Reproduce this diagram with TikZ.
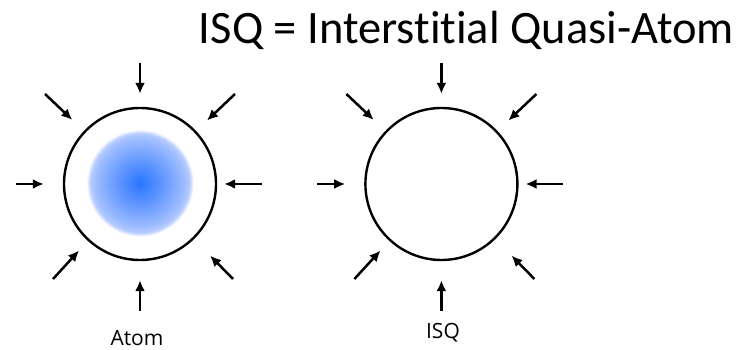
\documentclass[tikz,border=0pt]{standalone}
\usepackage{fontspec}
\setmainfont{Carlito}[Ligatures={NoCommon,NoContextual}, Contextuals=NoAlternate]
\newfontfamily\labelfont{Open Sans}
\usetikzlibrary{arrows.meta,positioning,calc}

% soft blue core of the atom
\pgfdeclareradialshading{atomglow}{\pgfpoint{0bp}{0bp}}{%
  rgb(0bp)=(0.16,0.46,1);
  rgb(11bp)=(0.40,0.60,1);
  rgb(20.5bp)=(0.62,0.74,1);
  rgb(23bp)=(0.72,0.80,1);
  rgb(24.8bp)=(1,1,1);
  rgb(50bp)=(1,1,1)}

\begin{document}
\begin{tikzpicture}[
    x=1pt, y=1pt,
    atomring/.style={circle, draw=black, line width=2.4pt, minimum size=152pt, inner sep=0pt},
    glowdisc/.style={circle, shading=atomglow, minimum size=108pt, inner sep=0pt},
    inarrow/.style={-{Latex[length=11pt,width=10pt]}, line width=2.5pt},
    titletext/.style={font=\fontsize{46.5}{50}\selectfont, inner sep=0pt},
    labeltext/.style={font=\labelfont\fontsize{21}{24}\selectfont, inner sep=0pt}
]
\useasboundingbox (0,0) rectangle (749,350);

% Title
\node[titletext, anchor=base] (title) at (466.5,306) {ISQ = Interstitial Quasi-Atom};

% Atom (left) and ISQ (right)
\node[glowdisc] (glow) at (140,167) {};
\node[atomring] (atom) at (140,166) {};
\node[atomring, right=147pt of atom] (isq) {};

% Labels
\node[labeltext, anchor=base] (atom-label) at (137,4.5) {Atom};
\node[labeltext, anchor=base] (isq-label) at (443,11) {ISQ};

% Arrows pressing in from all sides
\foreach \c in {atom,isq} {
    \coordinate (\c-n)  at ($(\c)+(0,121)$);
    \coordinate (\c-nw) at ($(\c)+(-95,90)$);
    \coordinate (\c-ne) at ($(\c)+(95,90)$);
    \coordinate (\c-w)  at ($(\c)+(-124,0)$);
    \coordinate (\c-e)  at ($(\c)+(122,0)$);
    \coordinate (\c-sw) at ($(\c)+(-87,-95)$);
    \coordinate (\c-se) at ($(\c)+(93,-95)$);
    \coordinate (\c-s)  at ($(\c)+(0,-127)$);

    \draw[inarrow, shorten >=13pt] (\c-n) -- (\c);
    \draw[inarrow, shorten >=16pt] (\c-nw) -- (\c);
    \draw[inarrow, shorten >=15pt] (\c-ne) -- (\c);
    \draw[inarrow, shorten >=19pt] (\c-w) -- (\c);
    \draw[inarrow, shorten >=7pt] (\c-e) -- (\c);
    \draw[inarrow, shorten >=13pt] (\c-sw) -- (\c);
    \draw[inarrow, shorten >=23pt] (\c-se) -- (\c);
    \draw[inarrow, shorten >=19pt] (\c-s) -- (\c);
}

\end{tikzpicture}
\end{document}
